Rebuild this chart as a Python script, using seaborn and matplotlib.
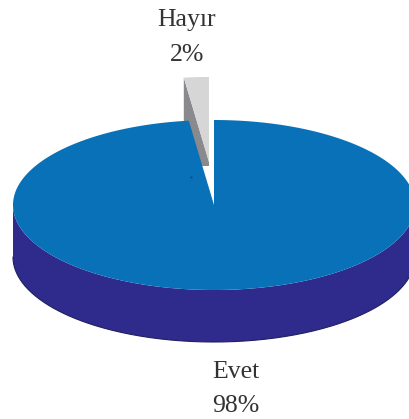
import numpy as np
import seaborn as sns
from matplotlib import pyplot as plt
from matplotlib.patches import Rectangle

labels = ['Evet', 'Hayır']
values = [98, 2]
top_colors = ['#0871B8', '#D6D6D6']
side_colors = ['#2E2B8C', '#8A8A8E']

# pie geometry in image pixels
CX, CY = 214, 205
RX, RY = 201, 85
DEPTH = 52
SHIFT = (-5, -43)


def ellipsePoints(start, end, cx=CX, cy=CY, n=300):
    # angles are clockwise from 12 o'clock
    t = np.radians(np.linspace(start, end, n))
    return cx + RX * np.sin(t), cy - RY * np.cos(t)


def drawPie():
    sns.set_theme(style='white')
    plt.rcParams['font.family'] = ['Liberation Serif', 'DejaVu Serif']
    fig = plt.figure(figsize=(4.09, 4.19), dpi=100)
    ax = fig.add_axes([0, 0, 1, 1])
    ax.set_xlim(0, 409)
    ax.set_ylim(419, 0)
    ax.axis('off')

    slice_angle = 360 * values[1] / sum(values)

    # exploded slice sits behind the big one
    cx2, cy2 = CX + SHIFT[0], CY + SHIFT[1]
    ax_x, ax_y = ellipsePoints(-slice_angle, 0, cx2, cy2, 30)
    left_x, left_y = ax_x[0], ax_y[0]
    face = ax.fill(
        [left_x, left_x, cx2, cx2],
        [left_y, left_y + DEPTH, cy2 + DEPTH, cy2],
        color=side_colors[1], lw=0,
    )[0]
    clip = Rectangle((0, 0), 409, cy2 + 4, transform=ax.transData)
    face.set_clip_path(clip)
    ax.fill(np.r_[ax_x, cx2], np.r_[ax_y, cy2], color=top_colors[1], lw=0)

    # side of the big slice, then its top
    x, y = ellipsePoints(90, 270)
    ax.fill(np.r_[x, x[::-1]], np.r_[y, y[::-1] + DEPTH], color=side_colors[0], lw=0)
    ax.plot(x, y + DEPTH, color='#20205F', lw=0.8)
    x, y = ellipsePoints(0, 360 - slice_angle)
    ax.fill(np.r_[x, CX], np.r_[y, CY], color=top_colors[0], lw=0)

    # speck on the top face
    ax.plot([CX - 23], [CY - 28], 's', ms=1.3, color='#123C8C', mew=0)

    text_color = '#333333'
    ax.text(236, 372, labels[0], ha='center', va='center', fontsize=18.5, color=text_color)
    ax.text(236, 406, f'{values[0]}%', ha='center', va='center', fontsize=18.5, color=text_color)
    ax.text(187, 20, labels[1], ha='center', va='center', fontsize=18.5, color=text_color)
    ax.text(187, 55, f'{values[1]}%', ha='center', va='center', fontsize=18.5, color=text_color)

    fig.savefig('out.png', dpi=100)


if __name__ == '__main__':
    drawPie()
